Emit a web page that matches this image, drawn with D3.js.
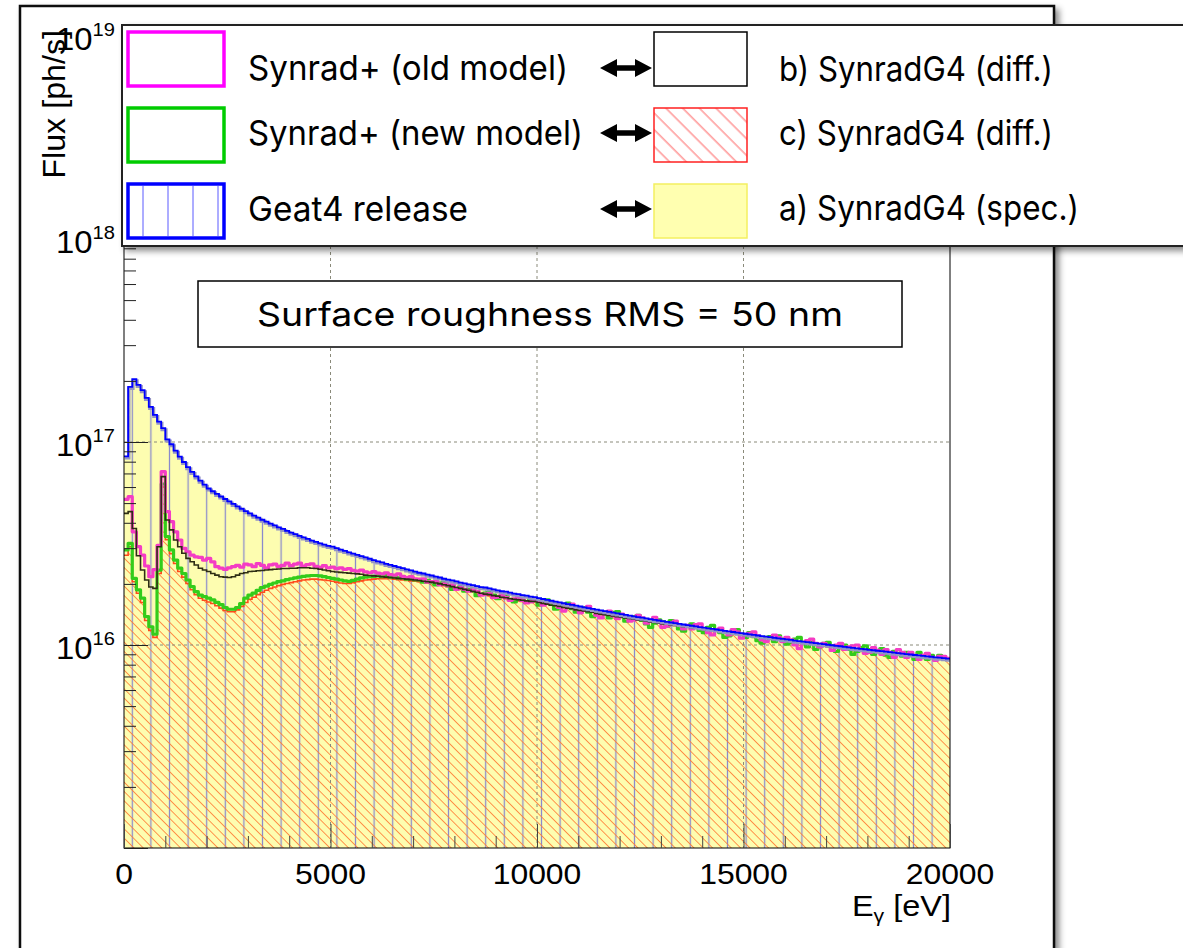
<!DOCTYPE html>
<html><head><meta charset="utf-8">
<script src="https://cdn.jsdelivr.net/npm/d3@7"></script>
<style>body{margin:0;background:#fff}svg{display:block}</style>
</head><body>
<svg id="c" width="1183" height="948"></svg>
<script>
// ---------------- data (flux per 100 eV bin, in units of 1e16 ph/s) ----------------
const BIN = 100;               // eV per bin, 0 .. 20000 eV -> 200 bins
const UNIT = 1e16;
const xTickValues = [0, 5000, 10000, 15000, 20000];
const yDecadeLabels = [16, 17, 18, 19];

const geant4Release = [
8.5,18.7,20.4,19.1,18.0,16.5,14.9,13.6,12.6,11.7,
10.3,9.75,9.07,8.48,7.97,7.52,7.12,6.77,6.45,6.16,
5.90,5.72,5.55,5.39,5.24,5.10,4.96,4.82,4.69,4.57,
4.45,4.34,4.24,4.14,4.05,3.96,3.88,3.80,3.73,3.65,
3.58,3.52,3.45,3.39,3.33,3.27,3.22,3.17,3.12,3.08,
3.05,3.00,2.95,2.91,2.86,2.82,2.78,2.74,2.70,2.66,
2.62,2.58,2.55,2.51,2.48,2.45,2.42,2.39,2.36,2.33,
2.30,2.27,2.25,2.22,2.20,2.17,2.15,2.12,2.10,2.08,
2.06,2.03,2.01,1.99,1.97,1.95,1.93,1.92,1.90,1.88,
1.86,1.84,1.83,1.81,1.79,1.78,1.76,1.75,1.73,1.72,
1.70,1.685,1.668,1.652,1.636,1.621,1.606,1.591,1.576,1.562,
1.548,1.534,1.52,1.507,1.493,1.481,1.468,1.455,1.443,1.431,
1.419,1.407,1.396,1.385,1.373,1.363,1.352,1.341,1.331,1.32,
1.31,1.30,1.291,1.281,1.271,1.262,1.253,1.244,1.235,1.226,
1.217,1.208,1.20,1.192,1.183,1.175,1.167,1.159,1.152,1.144,
1.136,1.129,1.121,1.114,1.107,1.10,1.093,1.086,1.079,1.072,
1.065,1.059,1.052,1.046,1.04,1.033,1.027,1.021,1.015,1.009,
1.003,0.997,0.991,0.986,0.98,0.974,0.969,0.963,0.958,0.953,
0.947,0.942,0.937,0.932,0.927,0.922,0.917,0.912,0.907,0.902,
0.898,0.893,0.888,0.884,0.879,0.875,0.87,0.866,0.861,0.857];

// a) SynradG4 (spec.) coincides with the Geant4 release spectrum
const synradG4Spec = geant4Release;

// b) SynradG4 (diff.), bins 0..99
const synradG4DiffBLow = [
4.45,4.54,3.75,2.75,2.34,2.09,1.93,1.90,3.05,6.75,
4.13,3.69,3.29,3.05,2.83,2.67,2.57,2.48,2.39,2.34,
2.30,2.25,2.21,2.17,2.16,2.15,2.17,2.21,2.25,2.27,
2.30,2.31,2.32,2.33,2.34,2.35,2.36,2.37,2.38,2.38,
2.39,2.39,2.40,2.40,2.40,2.39,2.38,2.36,2.34,2.32,
2.30,2.29,2.28,2.27,2.26,2.25,2.24,2.23,2.21,2.20,
2.19,2.18,2.17,2.16,2.15,2.14,2.13,2.12,2.11,2.10,
2.09,2.08,2.06,2.05,2.04,2.02,2.00,1.98,1.96,1.94,
1.92,1.90,1.88,1.86,1.84,1.82,1.80,1.78,1.77,1.75,
1.74,1.72,1.71,1.69,1.68,1.67,1.66,1.65,1.64,1.64];

// c) SynradG4 (diff.), bins 0..99
const synradG4DiffCLow = [
2.77,3.05,2.05,1.80,1.62,1.32,1.18,1.09,2.25,6.0,
3.30,2.82,2.52,2.30,2.16,2.01,1.87,1.77,1.70,1.66,
1.63,1.60,1.56,1.52,1.48,1.46,1.46,1.49,1.55,1.62,
1.68,1.72,1.77,1.82,1.86,1.90,1.93,1.96,1.99,2.01,
2.03,2.05,2.07,2.09,2.10,2.11,2.11,2.10,2.09,2.08,
2.06,2.04,2.02,2.01,2.01,2.03,2.05,2.07,2.09,2.10,
2.11,2.12,2.12,2.12,2.12,2.11,2.10,2.09,2.08,2.07,
2.06,2.05,2.04,2.02,2.01,2.00,1.98,1.96,1.94,1.92,
1.90,1.88,1.86,1.84,1.82,1.80,1.78,1.76,1.75,1.74,
1.72,1.71,1.69,1.68,1.66,1.65,1.64,1.64,1.63,1.63];

// b) and c) cannot be told apart above 10 keV: bins 100..199
const synradG4DiffTail = [
1.62,1.60,1.59,1.57,1.56,1.55,1.53,1.52,1.51,1.49,
1.48,1.47,1.46,1.45,1.43,1.42,1.41,1.40,1.39,1.38,
1.37,1.36,1.35,1.34,1.33,1.32,1.31,1.30,1.29,1.28,
1.27,1.265,1.257,1.249,1.24,1.232,1.224,1.217,1.209,1.20,
1.193,1.184,1.176,1.168,1.16,1.152,1.144,1.136,1.129,1.121,
1.114,1.107,1.099,1.092,1.085,1.079,1.072,1.065,1.058,1.051,
1.045,1.039,1.032,1.026,1.02,1.014,1.008,1.002,0.996,0.99,
0.985,0.979,0.973,0.968,0.962,0.957,0.952,0.946,0.941,0.936,
0.931,0.926,0.921,0.916,0.911,0.906,0.902,0.897,0.892,0.887,
0.883,0.878,0.874,0.869,0.865,0.861,0.856,0.852,0.848,0.844];

const synradG4DiffB = synradG4DiffBLow.concat(synradG4DiffTail);
const synradG4DiffC = synradG4DiffCLow.concat(synradG4DiffTail);

// Synrad+ (old model)
const synradOld = [
5.22,5.38,3.61,3.05,2.77,2.45,2.17,2.35,3.10,7.15,
4.54,4.05,3.61,3.29,2.99,2.88,2.77,2.72,2.70,2.62,
2.67,2.57,2.43,2.39,2.36,2.40,2.43,2.47,2.42,2.50,
2.48,2.43,2.52,2.47,2.40,2.48,2.50,2.44,2.47,2.53,
2.46,2.50,2.53,2.45,2.49,2.51,2.44,2.41,2.46,2.40,
2.42,2.38,2.40,2.36,2.38,2.33,2.31,2.34,2.29,2.27,
2.30,2.26,2.24,2.27,2.22,2.21,2.24,2.18,2.15,2.17,
2.12,2.11,2.12,2.04,2.05,2.06,1.98,2.00,1.96,1.98,
1.88,1.92,1.88,1.84,1.87,1.84,1.76,1.78,1.79,1.71,
1.72,1.76,1.71,1.66,1.69,1.72,1.66,1.61,1.63,1.66,
1.65,1.57,1.61,1.63,1.61,1.53,1.47,1.55,1.59,1.50,
1.44,1.50,1.55,1.48,1.40,1.36,1.45,1.47,1.39,1.35,
1.42,1.39,1.31,1.33,1.40,1.36,1.28,1.31,1.37,1.31,
1.22,1.24,1.29,1.31,1.25,1.20,1.25,1.20,1.26,1.27,
1.20,1.15,1.12,1.19,1.21,1.16,1.12,1.19,1.16,1.08,
1.13,1.14,1.16,1.11,1.06,1.04,1.08,1.12,1.09,1.04,
1.09,1.06,1.00,0.96,1.03,1.05,1.07,1.02,0.98,1.02,
0.99,0.94,1.00,1.02,0.95,0.98,0.99,1.00,0.95,0.91,
0.92,0.97,0.94,0.90,0.95,0.92,0.87,0.95,0.92,0.87,
0.92,0.89,0.85,0.89,0.91,0.87,0.84,0.88,0.88,0.86];

// Synrad+ (new model)
const synradNew = [
2.94,3.17,2.13,1.87,1.70,1.38,1.23,1.13,2.34,6.21,
3.42,2.94,2.62,2.39,2.25,2.09,1.94,1.83,1.76,1.73,
1.70,1.67,1.62,1.58,1.53,1.50,1.50,1.53,1.60,1.70,
1.76,1.80,1.86,1.92,1.95,1.99,2.02,2.05,2.07,2.10,
2.12,2.14,2.16,2.18,2.19,2.20,2.20,2.19,2.17,2.15,
2.13,2.11,2.09,2.07,2.06,2.08,2.11,2.14,2.16,2.17,
2.18,2.19,2.17,2.20,2.16,2.18,2.14,2.16,2.11,2.14,
2.09,2.09,2.04,2.08,2.03,1.98,2.02,2.04,1.96,1.88,
1.90,1.94,1.84,1.88,1.84,1.75,1.78,1.80,1.82,1.76,
1.69,1.73,1.74,1.68,1.63,1.68,1.66,1.62,1.68,1.66,
1.57,1.63,1.67,1.59,1.50,1.52,1.58,1.61,1.51,1.45,
1.51,1.53,1.45,1.38,1.40,1.46,1.42,1.36,1.45,1.46,
1.38,1.31,1.32,1.38,1.40,1.32,1.27,1.22,1.28,1.33,
1.30,1.24,1.32,1.29,1.20,1.17,1.24,1.27,1.23,1.18,
1.15,1.22,1.25,1.19,1.15,1.09,1.11,1.16,1.19,1.13,
1.09,1.15,1.10,1.05,1.02,1.09,1.10,1.04,1.11,1.07,
1.01,1.03,1.07,1.09,1.03,0.98,1.03,0.95,0.98,1.02,
1.03,0.99,0.93,0.99,1.00,0.95,0.90,0.93,0.97,0.99,
0.95,0.90,0.93,0.96,0.89,0.87,0.93,0.91,0.88,0.92,
0.90,0.85,0.92,0.88,0.85,0.89,0.856,0.89,0.86,0.85];

// ---------------- drawing ----------------
const svg = d3.select("#c");
const P = {l:124, r:950, t:36, b:848};
const x = d3.scaleLinear().domain([0, 20000]).range([P.l, P.r]);
const y = d3.scaleLog().domain([1e15, 1e19]).range([P.b, P.t]);
const ROOTF = "'Liberation Sans', Arial, Helvetica, sans-serif";
const PPTF = "Inter, 'Noto Sans', sans-serif";

const defs = svg.append("defs");
const f = defs.append("filter").attr("id","shadow").attr("x","-5%").attr("y","-5%").attr("width","120%").attr("height","130%");
f.append("feDropShadow").attr("dx",4).attr("dy",4).attr("stdDeviation",3).attr("flood-color","#000").attr("flood-opacity",0.45);
defs.append("clipPath").attr("id","plotclip").append("rect")
  .attr("x",P.l).attr("y",P.t).attr("width",P.r-P.l).attr("height",P.b-P.t);
const vp = defs.append("pattern").attr("id","vhatch").attr("patternUnits","userSpaceOnUse")
  .attr("x",123).attr("y",0).attr("width",18.6).attr("height",20);
vp.append("line").attr("x1",9.3).attr("x2",9.3).attr("y1",0).attr("y2",20)
  .attr("stroke","#8a8acc").attr("stroke-width",1.3);
const dp = defs.append("pattern").attr("id","dhatch").attr("patternUnits","userSpaceOnUse")
  .attr("width",6.6).attr("height",20).attr("patternTransform","rotate(-45)");
dp.append("line").attr("x1",3.3).attr("x2",3.3).attr("y1",0).attr("y2",20)
  .attr("stroke","#ff7a33").attr("stroke-width",1).attr("opacity",0.85);
const lp = defs.append("pattern").attr("id","lhatch").attr("patternUnits","userSpaceOnUse")
  .attr("width",11.8).attr("height",20).attr("patternTransform","rotate(-45)");
lp.append("line").attr("x1",5).attr("x2",5).attr("y1",0).attr("y2",20)
  .attr("stroke","#ff5050").attr("stroke-width",0.9);

// outer canvas frame
svg.append("rect").attr("x",20).attr("y",6).attr("width",1034).attr("height",980)
  .attr("fill","#fff").attr("stroke","#111").attr("stroke-width",2.5).attr("filter","url(#shadow)");

const steps = vals => { const d = vals.map((v,i)=>({e:i*BIN, v})); d.push({e:vals.length*BIN, v:vals[vals.length-1]}); return d; };
const line = d3.line().curve(d3.curveStepAfter).x(d=>x(d.e)).y(d=>y(d.v*UNIT));
const area = d3.area().curve(d3.curveStepAfter).x(d=>x(d.e)).y0(y(1e15)).y1(d=>y(d.v*UNIT));

const g = svg.append("g").attr("clip-path","url(#plotclip)");
g.append("path").attr("d",area(steps(synradG4Spec))).attr("fill","#fdfdb0");
g.append("path").attr("d",area(steps(geant4Release))).attr("fill","url(#vhatch)");
g.append("path").attr("d",area(steps(synradG4DiffC))).attr("fill","url(#dhatch)");

const grid = g.append("g").attr("stroke","#8a8a7a").attr("stroke-width",1).attr("stroke-dasharray","3,3");
[5000,10000,15000].forEach(v=>grid.append("line").attr("x1",x(v)).attr("x2",x(v)).attr("y1",P.t).attr("y2",P.b));
[1e16,1e17,1e18].forEach(v=>grid.append("line").attr("x1",P.l).attr("x2",P.r).attr("y1",y(v)).attr("y2",y(v)));

g.append("path").attr("d",line(steps(synradG4DiffC))).attr("fill","none").attr("stroke","#ff4a1a").attr("stroke-width",1.6);
g.append("path").attr("d",line(steps(synradNew))).attr("fill","none").attr("stroke","#33cc1a").attr("stroke-width",3.2).attr("stroke-linejoin","round");
g.append("path").attr("d",line(steps(synradOld))).attr("fill","none").attr("stroke","#f43cc4").attr("stroke-width",3.2).attr("stroke-linejoin","round");
g.append("path").attr("d",line(steps(synradG4DiffB))).attr("fill","none").attr("stroke","#2e2e14").attr("stroke-width",1.6);
g.append("path").attr("d",line(steps(synradG4Spec))).attr("transform","translate(0.8,1.6)").attr("fill","none").attr("stroke","#9494c4").attr("stroke-width",3);
g.append("path").attr("d",line(steps(geant4Release))).attr("fill","none").attr("stroke","#0000ff").attr("stroke-width",1.8);

// plot frame & axes
svg.append("rect").attr("x",P.l).attr("y",P.t).attr("width",P.r-P.l).attr("height",P.b-P.t)
  .attr("fill","none").attr("stroke","#000").attr("stroke-width",1);
const allY = y.ticks();
const majY = allY.filter(v => Math.abs(Math.log10(v) - Math.round(Math.log10(v))) < 1e-9);
const minY = allY.filter(v => !majY.includes(v));
svg.append("g").attr("transform",`translate(${P.l},0)`)
  .call(d3.axisLeft(y).tickValues(minY).tickSize(-12).tickFormat(""))
  .call(s=>{s.select(".domain").remove(); s.selectAll("line").attr("stroke","#222");});
svg.append("g").attr("transform",`translate(${P.l},0)`)
  .call(d3.axisLeft(y).tickValues(majY).tickSize(-24).tickFormat(""))
  .call(s=>{s.select(".domain").remove(); s.selectAll("line").attr("stroke","#222");});
const minX = d3.range(0, 20001, 1000);
svg.append("g").attr("transform",`translate(0,${P.b})`)
  .call(d3.axisBottom(x).tickValues(minX.filter(v=>v%5000)).tickSize(-12).tickFormat(""))
  .call(s=>{s.select(".domain").remove(); s.selectAll("line").attr("stroke","#444");});
svg.append("g").attr("transform",`translate(0,${P.b})`)
  .call(d3.axisBottom(x).tickValues(xTickValues).tickSize(-24).tickFormat(""))
  .call(s=>{s.select(".domain").remove(); s.selectAll("line").attr("stroke","#444");});

yDecadeLabels.forEach(n=>{
  const ty = y(Math.pow(10,n));
  const t = svg.append("text").attr("transform",`translate(115,${ty+14}) scale(1.06,1)`)
    .attr("text-anchor","end").attr("font-family",ROOTF).attr("font-size",31).attr("fill","#000");
  t.append("tspan").text("10");
  t.append("tspan").attr("dy",-14).attr("font-size",19).text(String(n));
});
xTickValues.forEach(v=>{
  svg.append("text").attr("transform",`translate(${x(v)},884) scale(1.1,1)`).attr("text-anchor","middle")
    .attr("font-family",ROOTF).attr("font-size",29).text(String(v));
});
const xt = svg.append("text").attr("transform","translate(951,916) scale(1.12,1)").attr("text-anchor","end")
  .attr("font-family",ROOTF).attr("font-size",29);
xt.append("tspan").text("E");
xt.append("tspan").attr("dy",6).attr("font-size",19).text("γ");
xt.append("tspan").attr("dy",-6).text(" [eV]");
svg.append("text").attr("transform","translate(65,30) rotate(-90) scale(1.04,1)").attr("text-anchor","end")
  .attr("font-family",ROOTF).attr("font-size",31).text("Flux [ph/s]");

// annotation box
svg.append("rect").attr("x",198).attr("y",281).attr("width",704).attr("height",66)
  .attr("fill","#fff").attr("stroke","#000").attr("stroke-width",1.5);
svg.append("text").attr("x",257).attr("y",326).attr("font-family",PPTF).attr("font-size",33)
  .attr("textLength",586).attr("lengthAdjust","spacingAndGlyphs").text("Surface roughness RMS = 50 nm");

// legend
const L = svg.append("g");
L.append("rect").attr("x",122).attr("y",25).attr("width",1100).attr("height",221)
  .attr("fill","#fff").attr("stroke","#222").attr("stroke-width",2).attr("filter","url(#shadow)");
const leftRows = [
  {label:"Synrad+ (old model)", color:"#ff00ff", y0:32, base:80, w:320},
  {label:"Synrad+ (new model)", color:"#00cc00", y0:108, base:145, w:335},
  {label:"Geat4 release", color:"#0000ff", y0:184, base:221, w:220}
];
leftRows.forEach((r,i)=>{
  L.append("rect").attr("x",128).attr("y",r.y0).attr("width",96).attr("height",54)
    .attr("fill","#fff").attr("stroke",r.color).attr("stroke-width",3.5);
  if(i===2){ [143,168,193,218].forEach(xx=>L.append("line").attr("x1",xx).attr("x2",xx)
    .attr("y1",r.y0+2).attr("y2",r.y0+52).attr("stroke","#5a5aff").attr("stroke-width",1)); }
  L.append("text").attr("x",248).attr("y",r.base).attr("font-family",PPTF).attr("font-size",34)
    .attr("textLength",r.w).attr("lengthAdjust","spacingAndGlyphs").text(r.label);
});
const rightRows = [
  {label:"b) SynradG4 (diff.)", y0:32, base:81, w:274, fill:"#fff", stroke:"#000", ay:68},
  {label:"c) SynradG4 (diff.)", y0:108, base:145, w:274, fill:"url(#lhatch)", stroke:"#ff2020", ay:133},
  {label:"a) SynradG4 (spec.)", y0:184, base:220, w:300, fill:"#ffffb0", stroke:"#f4f060", ay:209}
];
rightRows.forEach(r=>{
  L.append("rect").attr("x",654).attr("y",r.y0).attr("width",93).attr("height",54)
    .attr("fill",r.fill).attr("stroke",r.stroke).attr("stroke-width",1.5);
  L.append("text").attr("x",779).attr("y",r.base).attr("font-family",PPTF).attr("font-size",34)
    .attr("textLength",r.w).attr("lengthAdjust","spacingAndGlyphs").text(r.label);
  const a = r.ay;
  L.append("path").attr("fill","#000")
    .attr("d",`M600,${a} L617,${a-9} L617,${a-2.8} L635,${a-2.8} L635,${a-9} L652,${a} L635,${a+9} L635,${a+2.8} L617,${a+2.8} L617,${a+9} Z`);
});
</script>
</body></html>
